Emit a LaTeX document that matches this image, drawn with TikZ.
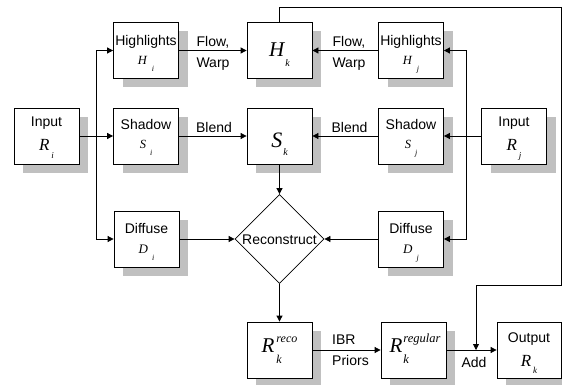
\documentclass[tikz,border=0pt]{standalone}
\usepackage{fontspec}
\setmainfont{Liberation Sans}
\newfontfamily\tms{Liberation Serif}
\usetikzlibrary{arrows.meta,shapes.geometric,shadows}
\definecolor{shade}{RGB}{192,192,192}
% #1 size, #2 letter, #3 kern, #4 subsize, #5 sub, #6 drop, #7 sup
\newcommand{\symb}[7]{\begingroup\tms\itshape\fontsize{#1}{#1}\selectfont #2\kern#3pt\fontsize{#4}{#4}\selectfont\makebox[0pt][l]{\raisebox{-#6pt}{#5}}\raisebox{10pt}{#7}\ifx\relax#7\relax\phantom{#5}\fi\endgroup}
\begin{document}
\begin{tikzpicture}[x=1pt,y=-1pt,
  box/.style={draw, line width=0.8pt, fill=white, minimum width=65pt, minimum height=56pt, inner sep=0pt,
    drop shadow={shadow xshift=9pt, shadow yshift=-9pt, fill=shade, opacity=1, draw=none}},
  lbl/.style={font=\fontsize{14}{16}\selectfont, inner sep=0pt, anchor=base},
  sym/.style={inner sep=0pt, anchor=base},
  ln/.style={line width=0.8pt},
  arr/.style={line width=0.8pt, -{Triangle[length=6pt,width=6pt]}}]
\useasboundingbox (0,0) rectangle (562,385);

% boxes
\node[box] (Ri) at (46.5,136) {};
\node[box] (Hi) at (146,50.5) {};
\node[box] (Si) at (146,136) {};
\node[box] (Di) at (146.5,239) {};
\node[box] (Hk) at (279.5,50.5) {};
\node[box] (Sk) at (279.5,136) {};
\node[box] (Hj) at (411,50.5) {};
\node[box] (Sj) at (411,136) {};
\node[box] (Rj) at (514,136) {};
\node[box] (Dj) at (411,239) {};
\node[box] (Rreco) at (279.5,350) {};
\node[box] (Rreg) at (413.5,350) {};
\node[box, minimum width=64pt] (Out) at (529,350) {};
\node[draw, diamond, line width=0.8pt, fill=white, minimum width=89pt, minimum height=89pt, inner sep=0pt] (Rec) at (279.5,239) {};

% box texts
\node[lbl] (tRi) at (46.5,127) {Input};
\node[sym] (sRi) at (46.5,150) {\symb{17}{R}{2}{9}{i}{8}{}};
\node[lbl] (tHi) at (146,46) {Highlights};
\node[sym] (sHi) at (146,65) {\symb{12.5}{H}{5}{8}{i}{7}{}};
\node[lbl] (tSi) at (146,130) {Shadow};
\node[sym] (sSi) at (146,148) {\symb{12.5}{S}{4}{8}{i}{8}{}};
\node[lbl] (tDi) at (146.5,233) {Diffuse};
\node[sym] (sDi) at (146.5,253) {\symb{13}{D}{4}{8}{i}{7}{}};
\node[sym] (sHk) at (279.5,57) {\symb{21}{H}{1}{10}{k}{10}{}};
\node[sym] (sSk) at (279.5,147) {\symb{22}{S}{1}{10}{k}{8}{}};
\node[lbl] (tHj) at (411,46) {Highlights};
\node[sym] (sHj) at (411,65) {\symb{12.5}{H}{5}{8}{j}{7}{}};
\node[lbl] (tSj) at (411,130) {Shadow};
\node[sym] (sSj) at (411,148) {\symb{12.5}{S}{4}{8}{j}{8}{}};
\node[lbl] (tRj) at (514,127) {Input};
\node[sym] (sRj) at (514,150) {\symb{17}{R}{2}{9}{j}{8}{}};
\node[lbl] (tDj) at (411,233) {Diffuse};
\node[sym] (sDj) at (411,253) {\symb{13}{D}{4}{8}{j}{7}{}};
\node[lbl] (tRec) at (279.5,244) {Reconstruct};
\node[sym] (sRreco) at (279.5,352) {\symb{21}{R}{2}{12}{k}{11}{reco}};
\node[sym] (sRreg) at (415,352) {\symb{21}{R}{1}{12.5}{k}{11}{regular}};
\node[lbl] (tOut) at (529,342) {Output};
\node[sym] (sOut) at (529,366) {\symb{17}{R}{2}{9}{k}{7}{}};

% edge labels
\node[lbl] (fw1) at (213,47) {Flow,};
\node[lbl] (fw2) at (213,68) {Warp};
\node[lbl] (fw3) at (349,47) {Flow,};
\node[lbl] (fw4) at (349,68) {Warp};
\node[lbl] (bl1) at (214,132) {Blend};
\node[lbl] (bl2) at (349.5,132) {Blend};
\node[lbl, anchor=base west] (ibr) at (332,344) {IBR};
\node[lbl, anchor=base west] (pri) at (332,365) {Priors};
\node[lbl] (add) at (474,367) {Add};

% connectors left
\coordinate (bl) at (96,136);
\draw[ln] (Ri.east) -- (bl);
\draw[arr] (bl) -- (Si.west);
\draw[arr] (bl) |- (Hi.west);
\draw[arr] (bl) |- (Di.west);
% connectors right
\coordinate (br) at (466,136);
\draw[ln] (Rj.west) -- (br);
\draw[arr] (br) -- (Sj.east);
\draw[arr] (br) |- (Hj.east);
\draw[arr] (br) |- (Dj.east);
% middle
\draw[arr] (Hi.east) -- (Hk.west);
\draw[arr] (Hj.west) -- (Hk.east);
\draw[arr] (Si.east) -- (Sk.west);
\draw[arr] (Sj.west) -- (Sk.east);
\draw[arr] (Sk.south) -- (Rec.north);
\draw[arr] (Di.east) -- (Rec.west);
\draw[arr] (Dj.west) -- (Rec.east);
\draw[arr] (Rec.south) -- (Rreco.north);
\draw[arr] (Rreco.east) -- (Rreg.west);
\draw[arr] (Rreg.east) -- (Out.west);
% feedback
\coordinate (fbtop) at (279.5,7);
\coordinate (fbcorner) at (561,285);
\coordinate (addpt) at (476,350);
\draw[arr] (Hk.north) -- (fbtop) -| (fbcorner) -| (addpt);
\end{tikzpicture}
\end{document}
